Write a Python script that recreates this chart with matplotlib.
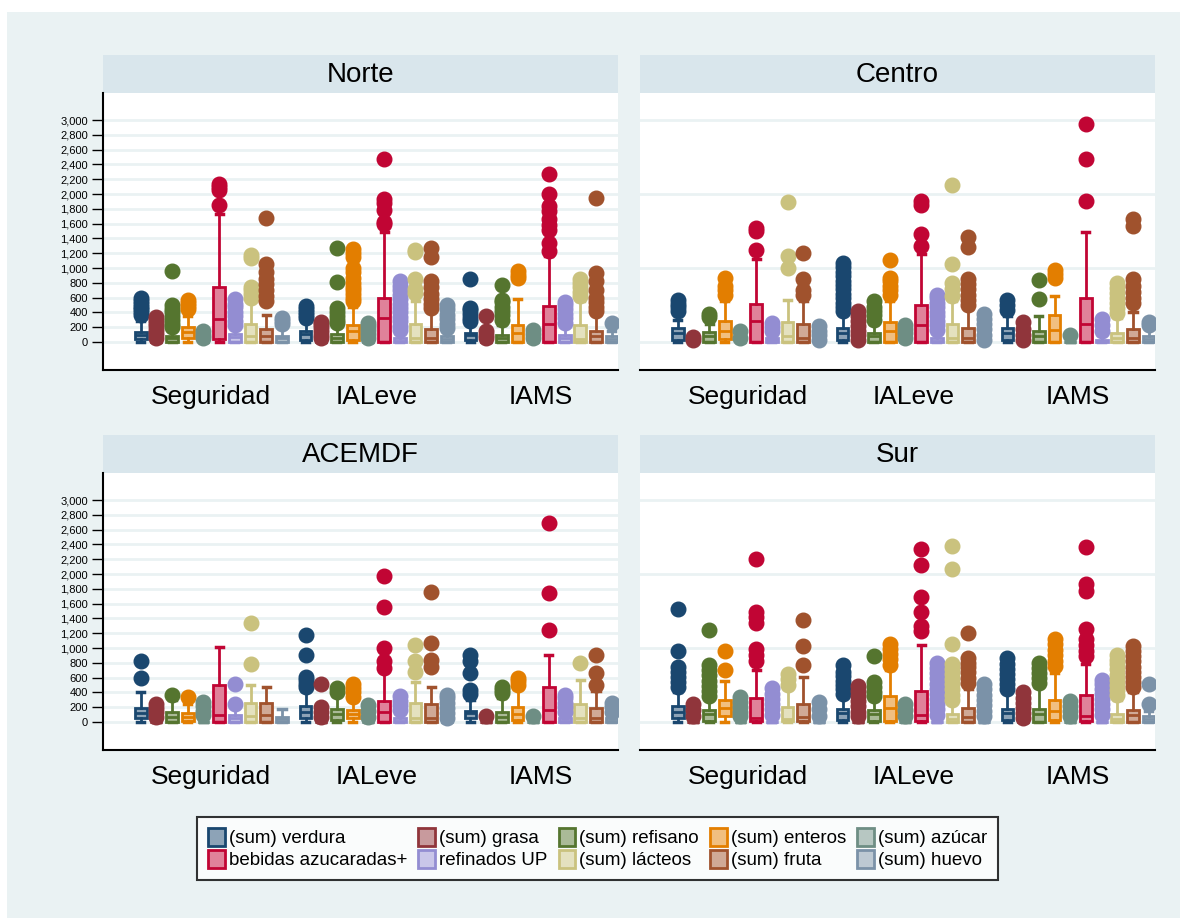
import numpy as np
import matplotlib
matplotlib.use('Agg')
import matplotlib.pyplot as plt
from matplotlib.patches import Patch, Rectangle

plt.rcParams['font.family'] = ['Liberation Sans', 'DejaVu Sans']

groups = ['Seguridad', 'IALeve', 'IAMS']
panels = ['Norte', 'Centro', 'ACEMDF', 'Sur']
foods = ['(sum) verdura', '(sum) grasa', '(sum) refisano', '(sum) enteros', '(sum) azúcar',
         'bebidas azucaradas+', 'refinados UP', '(sum) lácteos', '(sum) fruta', '(sum) huevo']
colors = ['#1a476f', '#90353b', '#55752f', '#e37e00', '#6e8e84',
          '#c10534', '#938dd2', '#cac27e', '#a0522d', '#7b92a8']

# box stats per panel: [whisker low, q1, median, q3, whisker high], 10 foods x 3 groups
Z = [0, 0, 0, 0, 0]
norte_box = [
    [0, 35, 95, 135, 280], Z, [0, 5, 50, 80, 180], [0, 60, 140, 205, 350], Z,
    [0, 45, 307, 745, 1730], [0, 5, 72, 104, 200], [0, 5, 80, 248, 560], [0, 5, 81, 172, 361], [0, 5, 54, 81, 200],
    [0, 32, 113, 145, 290], Z, [0, 0, 54, 113, 230], [0, 32, 145, 226, 480], Z,
    [0, 0, 325, 596, 1486], [0, 0, 20, 50, 120], [0, 0, 60, 244, 560], [0, 0, 60, 180, 420], [0, 0, 40, 77, 150],
    [0, 32, 100, 122, 250], Z, [0, 0, 54, 100, 230], [0, 0, 122, 235, 583], Z,
    [0, 0, 248, 483, 1160], [0, 0, 54, 100, 220], [0, 0, 40, 226, 550], [0, 0, 77, 154, 380], [0, 0, 40, 77, 150],
]
norte_out = [
    [360, 400, 440, 480, 520, 560, 600], [60, 110, 160, 210, 260, 300, 340],
    [200, 250, 300, 350, 400, 450, 505, 966], [450, 490, 530, 565], [50, 100, 145],
    [1855, 2060, 2100, 2130], [230, 290, 350, 410, 470, 520, 580], [600, 650, 700, 745, 1130, 1180],
    [560, 620, 700, 780, 850, 950, 1050, 1680], [240, 280, 320],
    [330, 370, 410, 450, 490], [50, 100, 150, 200, 240, 270], [258, 300, 350, 400, 461, 813, 1274],
    [551, 600, 650, 700, 750, 800, 870, 950, 1000, 1150, 1200, 1251], [54, 110, 160, 210, 258],
    [1595, 1620, 1780, 1880, 1929, 2476], [167, 220, 280, 340, 400, 460, 520, 580, 640, 700, 760, 822],
    [664, 720, 845, 1220, 1250], [461, 520, 580, 650, 740, 830, 1150, 1274], [190, 250, 310, 370, 440, 506],
    [280, 330, 380, 430, 461, 845], [54, 100, 145, 357], [303, 360, 420, 480, 540, 574, 777],
    [867, 910, 958], [54, 110, 167],
    [1230, 1340, 1520, 1580, 1660, 1770, 1840, 1997, 2277], [258, 320, 380, 440, 500, 538],
    [619, 680, 740, 800, 845], [416, 480, 540, 600, 700, 830, 935, 1943], [258],
]

centro_box = [
    [0, 32, 122, 190, 300], Z, [0, 0, 77, 131, 250], [0, 40, 145, 280, 550], Z,
    [0, 0, 280, 520, 1125], [0, 0, 22, 54, 120], [0, 0, 77, 267, 574], [0, 0, 54, 240, 550], Z,
    [0, 32, 122, 190, 380], Z, [0, 0, 77, 122, 250], [0, 0, 145, 271, 550], Z,
    [0, 0, 235, 506, 1184], [0, 0, 20, 54, 120], [0, 0, 60, 244, 560], [0, 0, 60, 190, 450], Z,
    [0, 22, 122, 190, 350], Z, [0, 0, 77, 145, 348], [0, 0, 167, 361, 628], Z,
    [0, 0, 248, 596, 1486], [0, 0, 15, 32, 100], [0, 0, 54, 122, 330], [0, 0, 54, 176, 400], [0, 0, 40, 86, 200],
]
centro_out = [
    [416, 470, 520, 574], [30, 70], [340, 380], [641, 700, 760, 867], [54, 145],
    [1238, 1500, 1545], [145, 200, 258], [1003, 1161, 1897], [641, 700, 845, 1206], [30, 90, 150, 212],
    [416, 470, 530, 590, 650, 710, 770, 830, 890, 950, 1010, 1071], [32, 90, 150, 210, 280, 350, 416],
    [303, 360, 420, 480, 551], [641, 700, 760, 820, 867, 1107], [54, 120, 180, 235],
    [1297, 1455, 1848, 1900], [167, 230, 290, 350, 410, 470, 530, 590, 641],
    [619, 710, 800, 1048, 2123], [506, 570, 640, 710, 780, 850, 1280, 1420], [32, 100, 170, 240, 310, 384],
    [438, 500, 574], [32, 100, 170, 267], [583, 836], [860, 920, 980], [100],
    [1906, 2467, 2946], [145, 230, 312], [393, 460, 530, 600, 660, 730, 800],
    [528, 600, 680, 760, 854, 1568, 1658], [230, 267],
]

acemdf_box = [
    [0, 50, 127, 194, 411], Z, [0, 5, 72, 140, 300], [0, 18, 72, 127, 250], Z,
    [0, 0, 95, 497, 1012], [0, 0, 50, 95, 200], [0, 0, 80, 253, 501], [0, 0, 95, 253, 479], [0, 0, 36, 72, 176],
    [0, 50, 140, 221, 420], Z, [0, 27, 108, 176, 350], [0, 50, 108, 163, 300], Z,
    [0, 0, 140, 285, 700], [0, 0, 20, 50, 120], [0, 0, 60, 253, 547], [0, 0, 60, 244, 470], Z,
    [0, 50, 117, 154, 300], Z, [0, 0, 72, 140, 330], [0, 27, 108, 208, 450], Z,
    [0, 0, 163, 479, 908], [0, 0, 20, 50, 120], [0, 0, 60, 244, 569], [0, 0, 60, 194, 420], [0, 0, 20, 50, 120],
]
acemdf_out = [
    [601, 831], [72, 130, 190, 244], [366], [334], [95, 150, 210, 276],
    [], [244, 510], [786, 1337], [], [],
    [470, 520, 570, 614, 908, 1179], [72, 140, 208, 515], [410, 456], [334, 400, 460, 515], [72, 150, 230],
    [730, 818, 994, 1554, 1979], [163, 230, 290, 352], [682, 818, 1044], [750, 840, 1066, 1762],
    [50, 120, 190, 260, 320, 366],
    [380, 434, 660, 820, 908], [86], [388, 430, 470], [501, 550, 592], [81],
    [1238, 1748, 2684], [140, 200, 260, 320, 366], [795], [501, 660, 899], [140, 200, 253],
]

sur_box = [
    [0, 54, 131, 212, 400], Z, [0, 9, 108, 167, 330], [0, 77, 190, 303, 550], Z,
    [0, 9, 60, 321, 700], Z, [0, 9, 40, 203, 450], [0, 9, 68, 240, 605], Z,
    [0, 32, 122, 181, 350], Z, [0, 9, 108, 158, 300], [0, 9, 190, 348, 700], Z,
    [0, 9, 100, 424, 1035], Z, [0, 0, 40, 113, 280], [0, 0, 68, 190, 450], Z,
    [0, 32, 122, 176, 400], Z, [0, 0, 113, 176, 480], [0, 32, 145, 303, 664], Z,
    [0, 9, 80, 361, 782], Z, [0, 0, 40, 113, 300], [0, 0, 100, 167, 400], [0, 0, 40, 77, 150],
]
sur_out = [
    [474, 540, 610, 680, 745, 958, 1532], [77, 160, 248], [357, 420, 490, 560, 630, 700, 764, 1238],
    [700, 958], [77, 140, 200, 270, 334],
    [822, 900, 989, 1338, 1420, 1482, 2209], [100, 170, 240, 310, 380, 461], [500, 578, 651],
    [768, 1026, 1373], [77, 170, 267],
    [384, 440, 500, 560, 620, 680, 764], [77, 140, 210, 280, 350, 420, 492], [348, 410, 470, 538, 890],
    [777, 850, 920, 990, 1048], [77, 160, 248],
    [1229, 1297, 1491, 1694, 2119, 2336], [100, 170, 240, 310, 380, 450, 520, 590, 660, 730, 791],
    [303, 370, 440, 510, 580, 650, 720, 786, 1057, 2065, 2381], [528, 600, 670, 740, 800, 867, 1197],
    [77, 150, 230, 300, 370, 440, 520],
    [447, 510, 580, 650, 720, 790, 867], [54, 120, 190, 260, 330, 402], [528, 590, 660, 730, 791],
    [755, 830, 900, 980, 1050, 1116], [77, 150, 220, 289],
    [890, 960, 1040, 1116, 1252, 1770, 1860, 2368], [100, 170, 240, 310, 380, 450, 510, 574],
    [370, 430, 500, 570, 640, 710, 780, 840, 899], [474, 540, 610, 680, 750, 820, 890, 960, 1025], [248, 520],
]

panel_data = [(norte_box, norte_out), (centro_box, centro_out), (acemdf_box, acemdf_out), (sur_box, sur_out)]


def lighten(c, f=0.5):
    rgb = np.array(matplotlib.colors.to_rgb(c))
    return tuple(rgb + (1 - rgb) * f)


W, H = 1183, 918
fig = plt.figure(figsize=(W / 100, H / 100), dpi=100)
fig.patch.set_facecolor('white')
fig.patches.append(Rectangle((7 / W, 0), 1173 / W, 906 / H, transform=fig.transFigure,
                             facecolor='#eaf2f3', edgecolor='none', zorder=-10))


def px_axes(x0, y0, x1, y1):
    return fig.add_axes([x0 / W, 1 - y1 / H, (x1 - x0) / W, (y1 - y0) / H])


boxes_px = [(103, 55, 618, 93, 370), (640, 55, 1155, 93, 370),
            (103, 435, 618, 473, 750), (640, 435, 1155, 473, 750)]

grid_col = '#eaf2f3'
for p, (name, (stats, outs), (x0, ys, x1, yp, yb)) in enumerate(zip(panels, panel_data, boxes_px)):
    left = p % 2 == 0
    # strip
    sax = px_axes(x0, ys, x1, yp)
    sax.set_facecolor('#d9e6ec')
    sax.set_xticks([])
    sax.set_yticks([])
    for s in sax.spines.values():
        s.set_visible(False)
    sax.text(0.5, 0.48, name, ha='center', va='center', fontsize=20, transform=sax.transAxes)

    ax = px_axes(x0, yp, x1, yb)
    ax.set_facecolor('white')
    grid_vals = range(0, 3001, 200) if left else range(0, 3001, 1000)
    for v in grid_vals:
        ax.axhline(v, color=grid_col, lw=2, zorder=0.5)

    for k in range(30):
        g, i = divmod(k, 10)
        lo, q1, med, q3, hi = stats[k]
        c = colors[i]
        st = dict(whislo=lo, q1=q1, med=med, q3=q3, whishi=hi, fliers=outs[k])
        ax.bxp([st], positions=[g * 10.5 + i], widths=0.75, patch_artist=True, showfliers=True,
               boxprops=dict(facecolor=lighten(c), edgecolor=c, linewidth=2),
               medianprops=dict(color=c, linewidth=2),
               whiskerprops=dict(color=c, linewidth=2),
               capprops=dict(color=c, linewidth=2.5),
               flierprops=dict(marker='o', markerfacecolor=c, markeredgecolor=c,
                               markersize=10.5, zorder=3),
               capwidths=0.45)

    ax.set_xlim(-2.4, 30.4)
    ax.set_ylim(-378, 3365)
    ax.set_xticks([g * 10.5 + 4.5 for g in range(3)])
    ax.set_xticklabels(groups, fontsize=19)
    ax.tick_params(axis='x', length=0, pad=11)
    ax.spines['top'].set_visible(False)
    ax.spines['right'].set_visible(False)
    ax.spines['bottom'].set_linewidth(1.5)
    if left:
        ax.spines['left'].set_linewidth(1.5)
        ax.set_yticks(list(range(0, 3001, 200)))
        ax.set_yticklabels([f'{v:,}' for v in range(0, 3001, 200)], fontsize=8)
        ax.tick_params(axis='y', length=8, width=1, pad=3)
    else:
        ax.spines['left'].set_visible(False)
        ax.set_yticks([])

handles = [Patch(facecolor=lighten(c), edgecolor=c, linewidth=2) for c in colors]
order = [0, 5, 1, 6, 2, 7, 3, 8, 4, 9]
leg = fig.legend([handles[j] for j in order], [foods[j] for j in order], ncol=5,
                 loc='center', bbox_to_anchor=(597.5 / W, 1 - 848.5 / H),
                 fontsize=13.5, frameon=True, fancybox=False, edgecolor='black',
                 handlelength=0.9, handleheight=1.1, handletextpad=0.2,
                 columnspacing=0.6, labelspacing=0.12, borderpad=0.6)
leg.get_frame().set_linewidth(1.5)

fig.savefig('out.png', dpi=100)
